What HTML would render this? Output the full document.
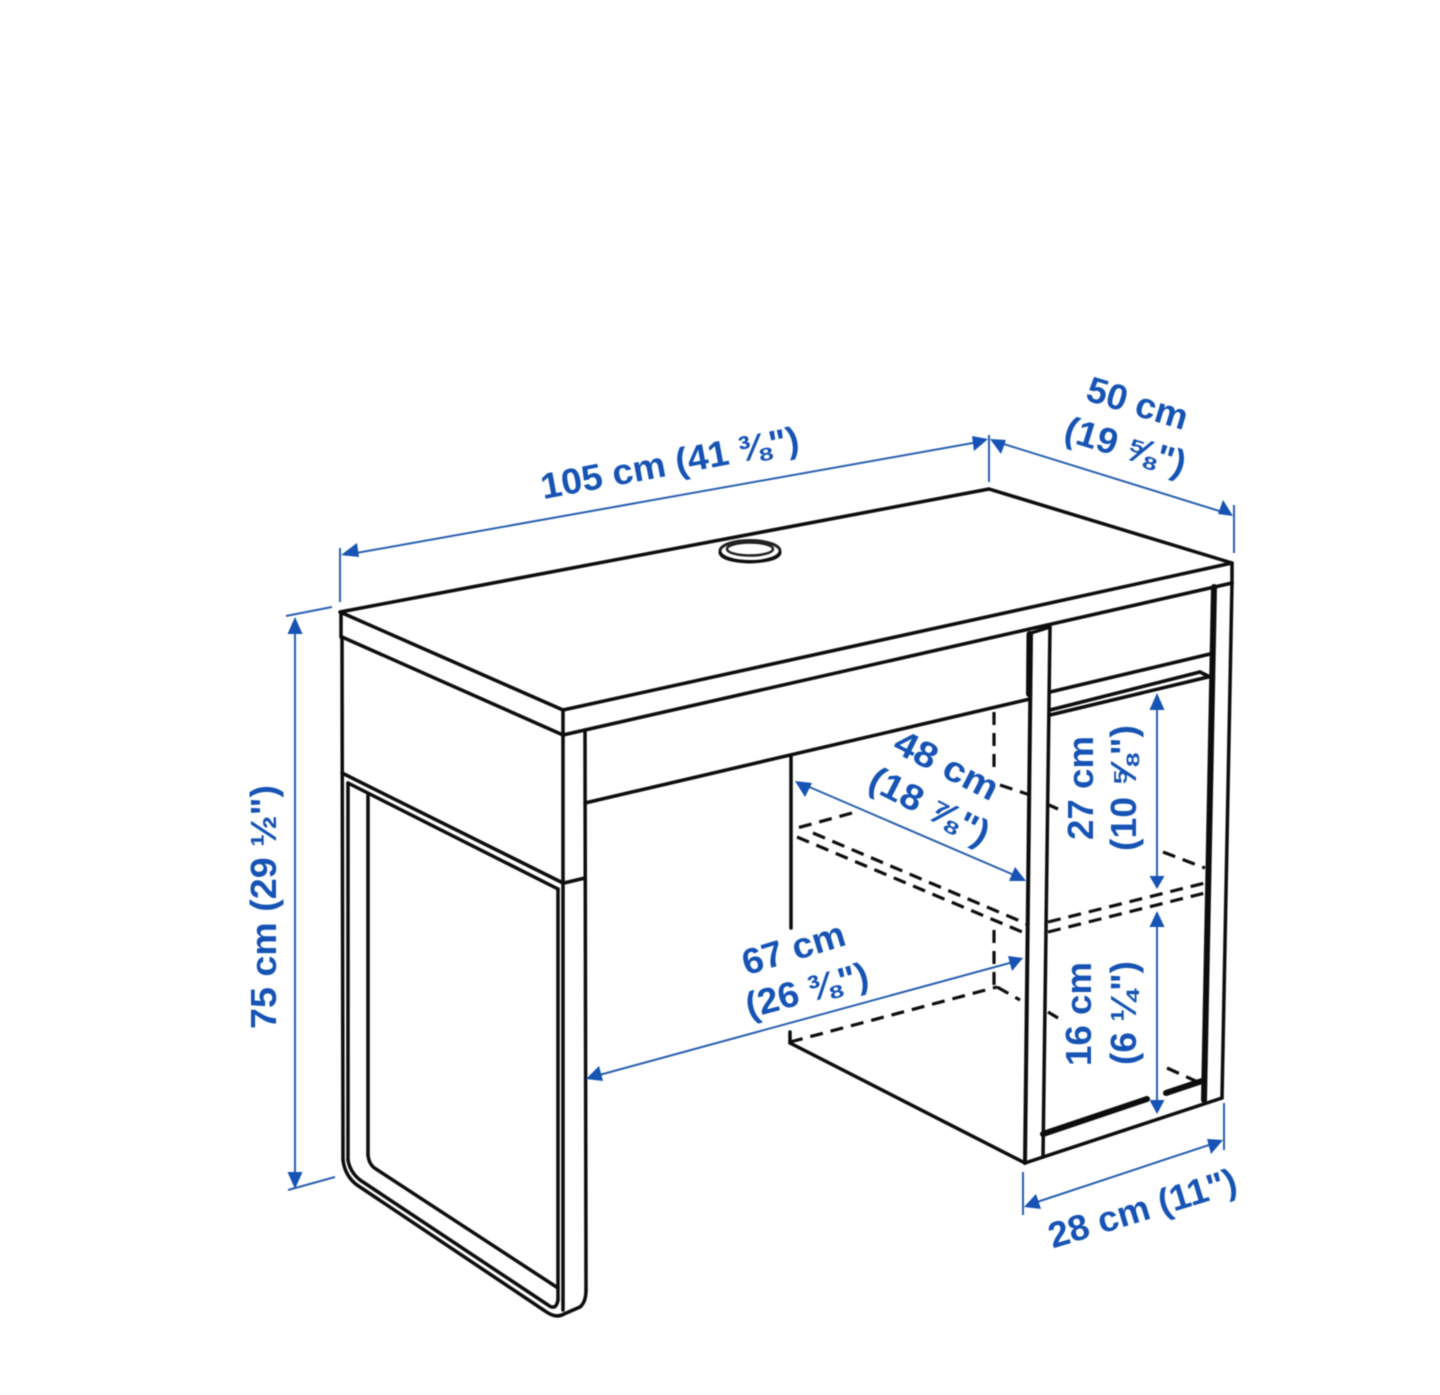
<!DOCTYPE html>
<html><head><meta charset="utf-8"><style>
html,body{margin:0;padding:0;background:#fff;width:1440px;height:1395px;overflow:hidden}
svg{display:block}
text{font-family:"Liberation Sans","DejaVu Sans",sans-serif;font-weight:700;fill:#1252b4;font-size:36px;text-anchor:middle}
.k line,.k path{stroke:#0b0b0b;fill:none;stroke-linecap:round;stroke-linejoin:round}
.k{stroke-width:3.5}
.d line,.d path{stroke:#111;fill:none;stroke-width:3.2;stroke-dasharray:13 8;stroke-linecap:butt}
.b line{stroke:#2a5fb0;stroke-width:2}
.a path{fill:#1252b4}
</style></head><body>
<svg width="1440" height="1395" viewBox="0 0 1440 1395" xmlns="http://www.w3.org/2000/svg">
<defs><filter id="s" filterUnits="userSpaceOnUse" x="0" y="0" width="1440" height="1395"><feGaussianBlur stdDeviation="0.45"/></filter></defs>
<g filter="url(#s)">
<g class="k" fill="none">
<!-- top -->
<path d="M340 612L989 489L1232 563L563 710Z" stroke="#0b0b0b" stroke-width="3.5"/>
<line x1="341" y1="612" x2="341" y2="637"/>
<line x1="342" y1="637" x2="563" y2="735"/>
<line x1="563" y1="710" x2="563" y2="735"/>
<line x1="563" y1="735" x2="1232" y2="583"/>
<line x1="1232" y1="563" x2="1232" y2="583"/>
<!-- left side -->
<line x1="342" y1="637" x2="343" y2="1160"/>
<line x1="348" y1="783" x2="348" y2="1160"/>
<line x1="342" y1="773" x2="563" y2="883"/>
<line x1="348" y1="783" x2="558" y2="889"/>
<line x1="368" y1="795" x2="368" y2="1155"/>
<!-- front leg -->
<line x1="563" y1="735" x2="563" y2="1310"/>
<line x1="558" y1="889" x2="558" y2="1300"/>
<line x1="585" y1="730" x2="586" y2="1290"/>
<line x1="564" y1="883" x2="585" y2="878"/>
<!-- feet -->
<path d="M343 1160Q345 1176 357 1185L545 1311Q556 1319 564 1314L580 1307Q586 1302 586 1290"/>
<path d="M348 1160Q350 1172 360 1180L548 1305Q556 1311 558 1300"/>
<path d="M368 1155Q369 1165 376 1169L558 1288"/>
<!-- under drawer -->
<line x1="585" y1="803" x2="1030" y2="699"/>
<!-- middle pillar -->
<line x1="1031" y1="633" x2="1025" y2="1163" stroke-width="4"/>
<line x1="1029.5" y1="634" x2="1029" y2="694" stroke-width="6" stroke-linecap="butt"/>
<line x1="1050" y1="627" x2="1043" y2="1157" stroke-width="3.5"/>
<line x1="1031" y1="633" x2="1050" y2="627"/>
<!-- right drawer -->
<line x1="1050" y1="692" x2="1210" y2="654"/>
<line x1="1050" y1="710" x2="1200" y2="672"/>
<line x1="1050" y1="715" x2="1208" y2="677"/>
<line x1="1200" y1="672" x2="1210" y2="677"/>
<!-- right pillars -->
<line x1="1214" y1="587" x2="1204" y2="1100" stroke-width="6" stroke-linecap="butt"/>
<line x1="1232" y1="583" x2="1222" y2="1098" stroke-width="3.5"/>
<!-- bottom -->
<line x1="1025" y1="1163" x2="1222" y2="1098"/>
<line x1="791" y1="755" x2="791" y2="928"/>
<line x1="790" y1="1032" x2="790" y2="1043"/>
<line x1="790" y1="1043" x2="1025" y2="1163"/>
<line x1="1043" y1="1134" x2="1147" y2="1099" stroke-width="6" stroke-linecap="butt"/>
<line x1="1166" y1="1093" x2="1202" y2="1081" stroke-width="6" stroke-linecap="butt"/>
<!-- grommet -->
<ellipse cx="750" cy="551" rx="30" ry="10.5" stroke="#222" stroke-width="3"/>
<ellipse cx="750" cy="549" rx="23" ry="6.5" stroke="#222" stroke-width="2.5"/>
<path d="M720 553Q722 561 750 562Q778 561 780 553" stroke="#555" stroke-width="3"/>
</g>
<g class="d">
<line x1="994" y1="712" x2="994" y2="770"/>
<line x1="1000" y1="785" x2="1030" y2="795"/>
<line x1="1049" y1="805" x2="1058" y2="809" style="stroke-dasharray:none"/>
<line x1="1163" y1="852" x2="1205" y2="868"/>
<line x1="852" y1="813" x2="797" y2="828"/>
<line x1="813" y1="833" x2="1027" y2="924"/>
<line x1="797" y1="837" x2="1027" y2="934"/>
<line x1="1048" y1="922" x2="1205" y2="883"/>
<line x1="1048" y1="932" x2="1205" y2="893"/>
<line x1="994" y1="930" x2="994" y2="987"/>
<line x1="790" y1="1042" x2="997" y2="987"/>
<line x1="997" y1="987" x2="1020" y2="1000"/>
<line x1="1048" y1="1012" x2="1058" y2="1018" style="stroke-dasharray:none"/>
<line x1="1167" y1="1068" x2="1200" y2="1083"/>
</g>
<g class="b">
<line x1="340" y1="548" x2="340" y2="602"/>
<line x1="989" y1="435" x2="989" y2="482"/>
<line x1="345" y1="555" x2="984" y2="441"/>
<line x1="994" y1="441" x2="1229" y2="514"/>
<line x1="1234" y1="505" x2="1234" y2="553"/>
<line x1="286" y1="616" x2="332" y2="607"/>
<line x1="288" y1="1190" x2="335" y2="1177"/>
<line x1="295" y1="625" x2="295" y2="1182"/>
<line x1="800" y1="783" x2="1021" y2="878"/>
<line x1="592" y1="1077" x2="1017" y2="961"/>
<line x1="1157" y1="700" x2="1157" y2="882"/>
<line x1="1157" y1="918" x2="1157" y2="1108"/>
<line x1="1028" y1="1205" x2="1218" y2="1142"/>
<line x1="1023" y1="1172" x2="1023" y2="1215"/>
<line x1="1224" y1="1103" x2="1224" y2="1150"/>
</g>
<g class="a">
<path d="M341 555L357 543L359 557Z"/>
<path d="M988 439L972 436L974 451Z"/>
<path d="M990 439L1006 440L1001 454Z"/>
<path d="M1233 516L1218 514L1223 500Z"/>
<path d="M295 617L302.500 634L287.500 634Z"/>
<path d="M295 1189L287.500 1172L302.500 1172Z"/>
<path d="M795 781L812 783L805 797Z"/>
<path d="M1026 881L1009 881L1015 867Z"/>
<path d="M1023 958L1012 971L1008 956Z"/>
<path d="M586 1079L599 1066L603 1081Z"/>
<path d="M1157 693L1164.500 710L1149.500 710Z"/>
<path d="M1157 889L1149.500 876L1164.500 876Z"/>
<path d="M1157 911L1164.500 927L1149.500 927Z"/>
<path d="M1157 1114L1149.500 1100L1164.500 1100Z"/>
<path d="M1223 1140L1211 1154L1207 1139Z"/>
<path d="M1024 1207L1036 1194L1041 1209Z"/>
</g>
<g>
<text transform="translate(672,475) rotate(-10.6)" textLength="262" lengthAdjust="spacingAndGlyphs">105 cm (41 ⅜")</text>
<text transform="translate(1134,415) rotate(17)" textLength="104" lengthAdjust="spacingAndGlyphs">50 cm</text>
<text transform="translate(1122,458) rotate(17)" textLength="125" lengthAdjust="spacingAndGlyphs">(19 ⅝")</text>
<text transform="translate(276,907) rotate(-90)" textLength="244" lengthAdjust="spacingAndGlyphs">75 cm (29 ½")</text>
<text transform="translate(941,776) rotate(27)" textLength="112" lengthAdjust="spacingAndGlyphs">48 cm</text>
<text transform="translate(924,817) rotate(27)" textLength="130" lengthAdjust="spacingAndGlyphs">(18 ⅞")</text>
<text transform="translate(1093,788) rotate(-90)" textLength="104" lengthAdjust="spacingAndGlyphs">27 cm</text>
<text transform="translate(1136,788) rotate(-90)" textLength="126" lengthAdjust="spacingAndGlyphs">(10 ⅝")</text>
<text transform="translate(1091,1014) rotate(-90)" textLength="104" lengthAdjust="spacingAndGlyphs">16 cm</text>
<text transform="translate(1136,1013) rotate(-90)" textLength="104" lengthAdjust="spacingAndGlyphs">(6 ¼")</text>
<text transform="translate(797,960) rotate(-17)" textLength="106" lengthAdjust="spacingAndGlyphs">67 cm</text>
<text transform="translate(810,1002) rotate(-15)" textLength="126" lengthAdjust="spacingAndGlyphs">(26 ⅜")</text>
<text transform="translate(1146,1220) rotate(-17)" textLength="195" lengthAdjust="spacingAndGlyphs">28 cm (11")</text>
</g>
</g>
</svg>
</body></html>
